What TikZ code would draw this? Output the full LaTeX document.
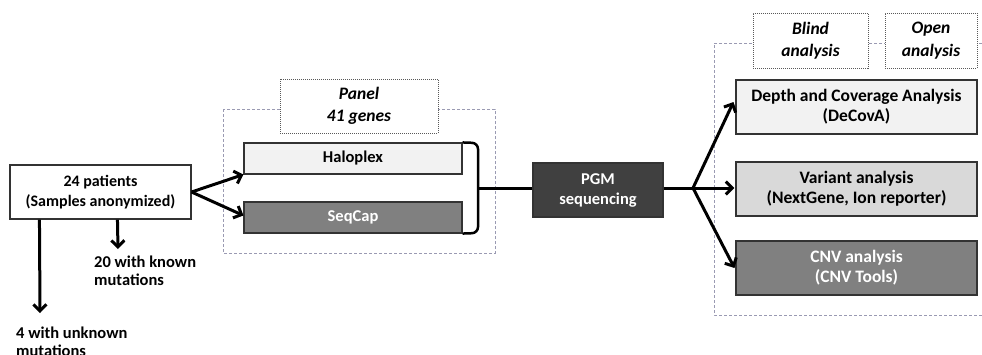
\documentclass[tikz,border=0pt]{standalone}
\usepackage{fontspec}
\setmainfont{Carlito}
\usetikzlibrary{arrows.meta}
\definecolor{lightbox}{HTML}{F2F2F2}
\definecolor{midbox}{HTML}{D9D9D9}
\definecolor{greybox}{HTML}{808080}
\definecolor{darkbox}{HTML}{404040}
\definecolor{dashc}{HTML}{9A9AB2}
\begin{document}
\begin{tikzpicture}[x=1pt,y=-1pt,
  box/.style={draw=black!80, line width=1.1pt, align=center, inner sep=0pt,
    font=\bfseries\fontsize{16.5}{20}\selectfont},
  bigbox/.style={box, font=\bfseries\fontsize{17.5}{20}\selectfont},
  lbl/.style={align=left, inner sep=0pt, anchor=north west,
    font=\bfseries\fontsize{16.5}{18}\selectfont},
  tag/.style={draw=black!65, fill=white, line width=0.8pt, dash pattern=on 1pt off 1pt,
    align=center, inner sep=0pt, font=\bfseries\itshape\fontsize{17.5}{22.5}\selectfont},
  group/.style={draw=dashc, line width=0.8pt, dash pattern=on 3pt off 2pt},
  arr/.style={line width=3pt, -{Straight Barb[length=6.5pt,width=13pt,line join=miter]}},
  conn/.style={line width=3pt}]
\useasboundingbox (0,0) rectangle (982,354);

% group frames
\draw[group] (223,109) rectangle (495,253);
\draw[group] (982,43) -- (714,43) -- (714,315) -- (982,315);

% tags
\node[tag, minimum width=158, minimum height=54] (panel) at (359,106) {Panel\\41 genes};
\node[tag, minimum width=115, minimum height=55] (blind) at (810.5,40.5) {Blind\\analysis};
\node[tag, minimum width=92, minimum height=55] (open) at (931,40.5) {Open\\analysis};

% boxes
\node[box, fill=white, minimum width=181, minimum height=54, font=\bfseries\fontsize{16}{20}\selectfont] (patients) at (100.5,192) {24 patients\\(Samples anonymized)};
\node[box, fill=lightbox, minimum width=218, minimum height=31] (halo) at (353,158.5) {Haloplex};
\node[box, fill=greybox, text=white, minimum width=218, minimum height=31] (seq) at (353,217.5) {SeqCap};
\node[box, fill=darkbox, text=white, minimum width=130, minimum height=54] (pgm) at (598,190) {PGM\\sequencing};
\node[bigbox, fill=lightbox, minimum width=241, minimum height=54] (depth) at (856.5,107) {Depth and Coverage Analysis\\(DeCovA)};
\node[bigbox, fill=midbox, minimum width=241, minimum height=54] (variant) at (856.5,189) {Variant analysis\\(NextGene, Ion reporter)};
\node[bigbox, fill=greybox, text=white, minimum width=241, minimum height=54] (cnv) at (856.5,268) {CNV analysis\\(CNV Tools)};

% labels
\node[lbl] (known) at (94,256) {20 with known\\mutations};
\node[lbl] (unknown) at (16,327) {4 with unknown\\mutations};

% connectors
\draw[arr] (patients.east) -- (halo.south west);
\draw[arr] (patients.east) -- ([yshift=2]seq.west);
\draw[arr] ([xshift=30]patients.south west) -- ([xshift=24,yshift=14]unknown.north west);
\draw[arr] ([xshift=108]patients.south west) -- ([xshift=24,yshift=7]known.north west);

\draw[line width=2.5pt, rounded corners=6pt] (halo.north east) -- (478,143) -- (478,233) -- (seq.south east);
\coordinate (bt) at (478,188);
\draw[conn] (bt) -- (pgm.west |- bt);
\coordinate (br) at (693,188);
\draw[conn] (pgm.east |- br) -- (br);
\draw[arr] (br) -- ([xshift=-2,yshift=5]depth.west);
\draw[arr] (br) -- ([xshift=-1]variant.west |- br);
\draw[arr] (br) -- ([xshift=-1]cnv.west);
\end{tikzpicture}
\end{document}
